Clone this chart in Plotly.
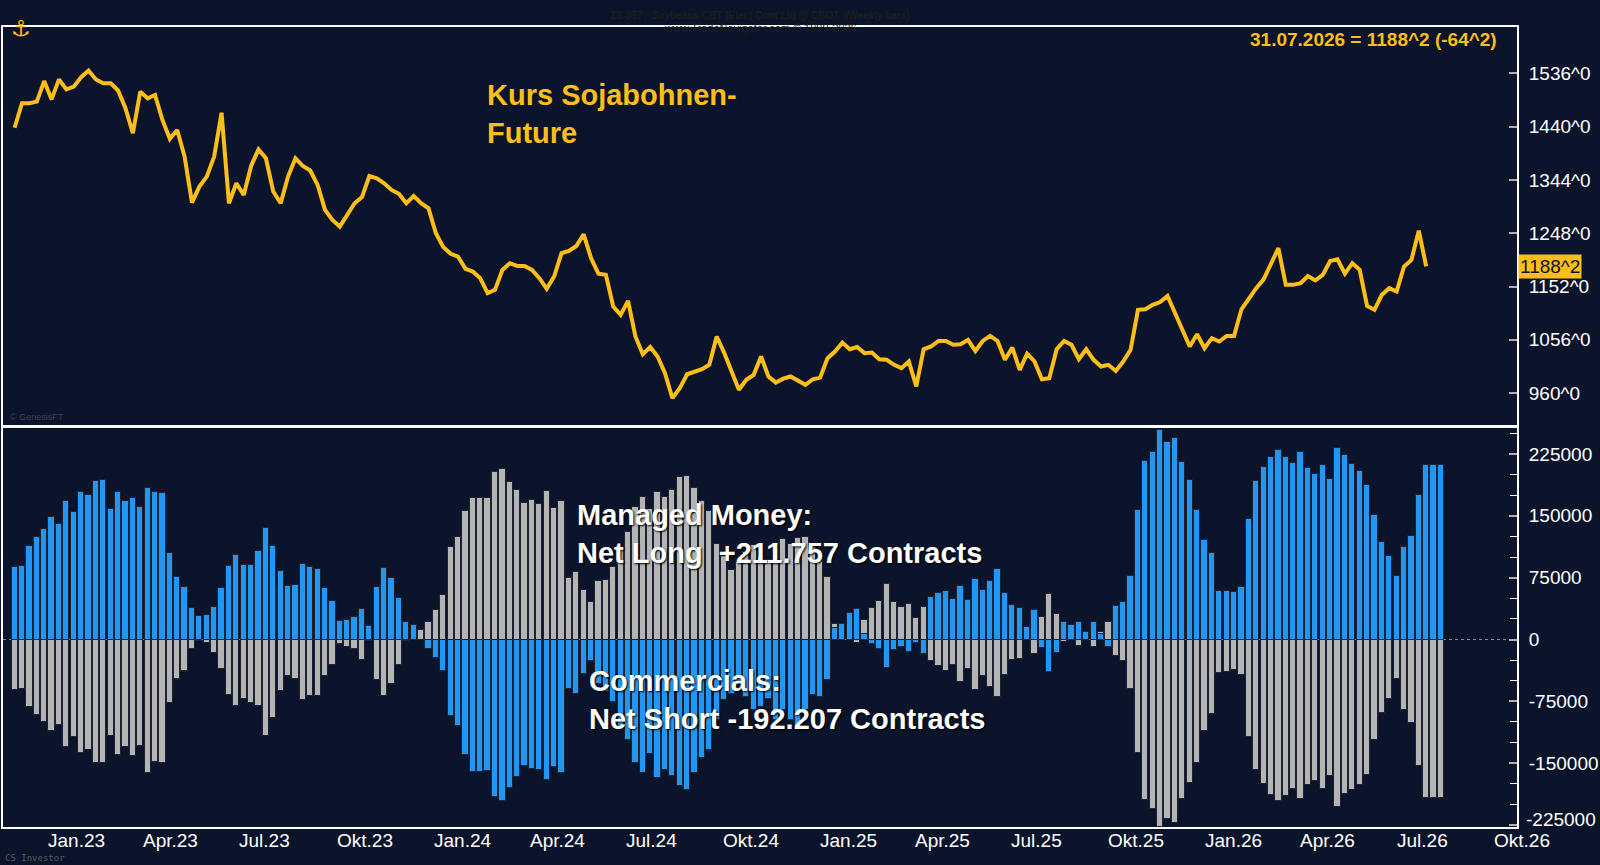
import pandas as pd
import plotly.graph_objects as go

# weekly settlement, soybean futures (cents/bu, eighths)
price = [
    1438, 1482, 1482, 1485, 1522, 1489, 1525, 1507, 1512, 1529, 1541, 1525, 1518, 1518, 1505, 1473,
    1428, 1503, 1491, 1497, 1452, 1418, 1434, 1386, 1303, 1332, 1350, 1386, 1465, 1302, 1338, 1317,
    1369, 1399, 1383, 1323, 1302, 1350, 1383, 1369, 1361, 1335, 1290, 1272, 1260, 1281, 1302, 1313,
    1351, 1347, 1338, 1326, 1319, 1302, 1315, 1302, 1293, 1248, 1223, 1211, 1206, 1184, 1179, 1167,
    1140, 1146, 1182, 1194, 1189, 1189, 1182, 1167, 1148, 1170, 1212, 1216, 1225, 1246, 1203, 1175,
    1173, 1116, 1101, 1126, 1062, 1030, 1043, 1026, 996, 951, 969, 994, 999, 1003, 1011, 1062,
    1033, 999, 966, 984, 993, 1026, 990, 979, 986, 990, 982, 975, 985, 988, 1023, 1035,
    1051, 1039, 1043, 1032, 1033, 1021, 1020, 1011, 1005, 1017, 972, 1039, 1044, 1054, 1054, 1047,
    1048, 1056, 1036, 1054, 1063, 1054, 1020, 1042, 1002, 1031, 1017, 985, 987, 1039, 1054, 1047,
    1021, 1039, 1020, 1008, 1011, 1000, 1017, 1038, 1110, 1111, 1119, 1124, 1135, 1104, 1074, 1044,
    1066, 1041, 1059, 1053, 1063, 1063, 1111, 1131, 1149, 1165, 1194, 1221, 1155, 1155, 1158, 1171,
    1163, 1173, 1198, 1201, 1175, 1194, 1182, 1117, 1110, 1137, 1149, 1143, 1188, 1200, 1252.5, 1188.25,
]

# COT net positions (contracts)
managed_money = [
    87500, 89500, 113300, 124200, 133900, 148000, 139900, 168100, 154800, 178600, 175000, 191900, 193100, 158100, 179400, 168100,
    171400, 160500, 183900, 179400, 177400, 104400, 75400, 64100, 38300, 29000, 30200, 39500, 62900, 88700, 102000, 90700,
    90700, 107700, 134700, 113300, 83100, 65300, 66100, 91500, 87500, 85100, 62500, 47200, 23000, 24200, 27000, 37100,
    16900, 64100, 87100, 74200, 50800, 21000, 18100, -1200, -12100, -22200, -38300, -93100, -105200, -140300, -160500, -160500,
    -159700, -190700, -196000, -179800, -167300, -153200, -157200, -158500, -170600, -154400, -161700, -59700, -65700, -41500, -26200, -53600,
    -63700, -75800, -110100, -122200, -149600, -161300, -138300, -167700, -158500, -165300, -177800, -182600, -161700, -144300, -134300, -98000,
    -73800, -65700, -53600, -69800, -85900, -81800, -71800, -98000, -85900, -98000, -108100, -85900, -67700, -69800, -49600, 14100,
    19000, 31900, 37100, 6900, -6000, -11300, -34300, -13300, -9300, -15300, -4000, -17300, 51200, 56400, 59300, 49200,
    65300, 48400, 73000, 60500, 71000, 85500, 56400, 41900, 38300, 15700, 35900, -10500, -39500, -16100, 21000, 18100,
    21800, 9700, 21800, 6900, -8500, 40300, 46000, 77400, 157200, 216500, 227800, 253600, 239500, 244700, 215300, 193100,
    157200, 121000, 104400, 59300, 58500, 57300, 64100, 146000, 192300, 209700, 221400, 229800, 221400, 214500, 227800, 207600,
    201200, 211300, 194300, 231800, 223800, 212500, 204000, 187100, 150400, 117700, 101200, 76600, 112500, 125800, 175400, 211757,
    211757, 211757,
]

commercials = [
    -60900, -59700, -81800, -91100, -100000, -111300, -103200, -130200, -118100, -137100, -134300, -149200, -149200, -116900, -140300, -130200,
    -141500, -129000, -162500, -148400, -149200, -77000, -48400, -38300, -11700, -2400, -4000, -16100, -36300, -67700, -80200, -72600,
    -77000, -81000, -116900, -94800, -62900, -44400, -48400, -73000, -68500, -68500, -44400, -31400, -6000, -9300, -11700, -24600,
    -2000, -49600, -68900, -54400, -31400, -2400, -500, 11700, 21800, 36300, 54400, 112500, 123800, 156000, 171800, 171800,
    171800, 203200, 206400, 191100, 181000, 166100, 169300, 164900, 179800, 159300, 168100, 74200, 82300, 60500, 45200, 71400,
    72600, 87500, 109700, 129800, 160100, 173000, 158100, 179000, 173000, 181000, 197200, 198400, 184300, 168100, 156000, 115700,
    101600, 84300, 94300, 106400, 114500, 99600, 96400, 116500, 121800, 115700, 123000, 123800, 112500, 95600, 75400, 19000,
    -1200, -1200, -4400, 23800, 38300, 46400, 67300, 45200, 39900, 43100, 26200, 39100, -26200, -32300, -38300, -31400,
    -51600, -36300, -60900, -44800, -57700, -69800, -43500, -25400, -23400, -1200, -18100, 27800, 55200, 31000, -3200, -500,
    -7300, -500, -8500, 8500, 21800, -20600, -26200, -59700, -137100, -194700, -206000, -227000, -217700, -223000, -193500, -173800,
    -149200, -111300, -89900, -40300, -39500, -37500, -43500, -118100, -157700, -175400, -188700, -195600, -189900, -181800, -193900, -176600,
    -171800, -181800, -165300, -203600, -187500, -182600, -176600, -164500, -121400, -89100, -71800, -47600, -85100, -101200, -153200, -192207,
    -192207, -192207,
]

tick_months = ["2023-01-01", "2023-04-01", "2023-07-01", "2023-10-01",
               "2024-01-01", "2024-04-01", "2024-07-01", "2024-10-01",
               "2025-01-01", "2025-04-01", "2025-07-01", "2025-10-01",
               "2026-01-01", "2026-04-01", "2026-07-01", "2026-10-01"]
tick_labels = ["Jan.23", "Apr.23", "Jul.23", "Okt.23", "Jan.24", "Apr.24", "Jul.24", "Okt.24",
               "Jan.25", "Apr.25", "Jul.25", "Okt.25", "Jan.26", "Apr.26", "Jul.26", "Okt.26"]
price_ticks = [960, 1056, 1152, 1248, 1344, 1440, 1536]
cot_ticks = [-225000, -150000, -75000, 0, 75000, 150000, 225000]

price_dates = pd.date_range("2022-12-02", periods=len(price), freq="7D")
cot_dates = pd.date_range("2022-12-02", periods=len(managed_money), freq="7D")

BG = "#0c142b"
GOLD = "#fdbf17"
BLUE = "#2196f3"
GREY = "#b4b4b4"
FONT = "Liberation Sans, Arial, sans-serif"


def eighths(v):
    sign = "-" if v < 0 else ""
    v = abs(v)
    whole = int(v)
    return f"{sign}{whole}^{round((v - whole) * 8)}"


fig = go.Figure()
fig.add_trace(go.Scatter(x=price_dates, y=price, mode="lines",
                         line=dict(color=GOLD, width=4), xaxis="x", yaxis="y"))
fig.add_trace(go.Bar(x=cot_dates, y=commercials, width=5.9 * 86400000,
                     marker=dict(color=GREY, line=dict(color="#1c2233", width=1)),
                     xaxis="x2", yaxis="y2"))
fig.add_trace(go.Bar(x=cot_dates, y=managed_money, width=5.9 * 86400000,
                     marker=dict(color=BLUE, line=dict(color="#1c2233", width=1)),
                     xaxis="x2", yaxis="y2"))

xrange = ["2022-11-21", "2026-10-25"]
axis_common = dict(showline=True, linecolor="white", linewidth=2, mirror=True,
                   showgrid=False, zeroline=False)

# lowest label sits a little above its tick (as in the original), drawn separately
cot_text = [str(v) if v != cot_ticks[0] else "" for v in cot_ticks]

fig.update_layout(
    width=1600, height=865,
    paper_bgcolor=BG, plot_bgcolor=BG,
    margin=dict(l=1, r=83, t=27, b=38),
    showlegend=False, barmode="overlay", bargap=0,
    font=dict(family=FONT, color="white", size=19),
    xaxis=dict(domain=[0, 1], range=xrange, anchor="y", matches="x2",
               showticklabels=False, ticks="", **axis_common),
    xaxis2=dict(domain=[0, 1], range=xrange, anchor="y2",
                showticklabels=False, ticks="", **axis_common),
    yaxis=dict(domain=[0.5025, 1], range=[902.6, 1619.4], side="right",
               tickvals=price_ticks, ticktext=[f"{v}^0" for v in price_ticks],
               ticks="inside", ticklen=8, tickcolor="#b0b0b0", tickwidth=2,
               ticklabelstandoff=6, **axis_common),
    yaxis2=dict(domain=[0, 0.49875], range=[-227400, 256500], side="right",
                tickvals=cot_ticks, ticktext=cot_text,
                ticks="inside", ticklen=8, tickcolor="#b0b0b0", tickwidth=2,
                minor=dict(dtick=25000, tick0=0, ticks="inside", ticklen=7,
                           tickcolor="white", tickwidth=1),
                ticklabelstandoff=6, **axis_common),
)

fig.add_annotation(x=1.0, xref="paper", y=cot_ticks[0], yref="y2", text=str(cot_ticks[0]),
                   xanchor="left", yanchor="middle", xshift=7, yshift=6, showarrow=False,
                   font=dict(size=19, color="white"))

fig.add_shape(type="line", xref="x2 domain", yref="y2", x0=0, x1=1, y0=0, y1=0,
              line=dict(color="#8a8a8a", width=1, dash="dot"), layer="below")

# month labels, left aligned at month start
for m, lab in zip(tick_months, tick_labels):
    fig.add_annotation(x=m, xref="x2", y=-0.01625, yref="paper", text=lab,
                       xanchor="left", yanchor="middle", showarrow=False,
                       font=dict(size=19, color="white"))

last, prev = price[-1], price[-2]
fig.add_annotation(x=1.0, xref="paper", y=last, yref="y", text=eighths(last),
                   xanchor="left", yanchor="middle", showarrow=False, xshift=1,
                   bgcolor=GOLD, borderpad=1, font=dict(size=19, color=BG))
fig.add_annotation(x=0.988, xref="paper", y=0.98375, yref="paper",
                   text=f"<b>{price_dates[-1]:%d.%m.%Y} = {eighths(last)} ({eighths(last - prev)})</b>",
                   xanchor="right", yanchor="middle", showarrow=False,
                   font=dict(size=19, color=GOLD))

shadow = "1px 1px 2px #000"
fig.add_annotation(x=0.3186, xref="paper", y=0.9375, yref="paper",
                   text="<b>Kurs Sojabohnen-<br>Future</b>", align="left",
                   xanchor="left", yanchor="top", showarrow=False,
                   font=dict(size=29, color=GOLD))
fig.add_annotation(x=0.378, xref="paper", y=0.4125, yref="paper",
                   text="<b>Managed Money:<br>Net Long \u00a0+211.757 Contracts</b>", align="left",
                   xanchor="left", yanchor="top", showarrow=False,
                   font=dict(size=29, color="white", shadow=shadow))
fig.add_annotation(x=0.3859, xref="paper", y=0.205, yref="paper",
                   text="<b>Commercials:<br>Net Short -192.207 Contracts</b>", align="left",
                   xanchor="left", yanchor="top", showarrow=False,
                   font=dict(size=29, color="white", shadow=shadow))

# header and small credits
fig.add_annotation(x=0.5, xref="paper", y=1.0, yref="paper", yshift=19,
                   text="<b>ZS-057:  Soybeans CBT (Elec) Cont Liq @ CBOT  (Weekly bars)</b>",
                   showarrow=False, font=dict(size=10, color="#1e1e1e"))
fig.add_annotation(x=0.5, xref="paper", y=1.0, yref="paper", yshift=7,
                   text="www.TradeNavigator.com © 1999-2026",
                   showarrow=False, font=dict(size=11, color="#1e1e1e"))
fig.add_annotation(x=0.004, xref="paper", y=1.0, yref="paper", yshift=13,
                   text="\u2693", showarrow=False, font=dict(size=22, color=GOLD,
                                                             family="DejaVu Sans"))
fig.add_annotation(x=0.003, xref="paper", y=0.5035, yref="paper", text="© GenesisFT",
                   xanchor="left", yanchor="bottom", showarrow=False,
                   font=dict(size=9, color="#3a4156"))
fig.add_annotation(x=0.0, xref="paper", y=-0.039, yref="paper", text="CS Investor",
                   xanchor="left", yanchor="middle", showarrow=False,
                   font=dict(size=9, color="#55595f", family="DejaVu Sans Mono"))

fig.write_html("out.html", config={"displayModeBar": False},
               post_script="document.body.style.margin='0';"
                           "document.body.style.background='" + BG + "';")
